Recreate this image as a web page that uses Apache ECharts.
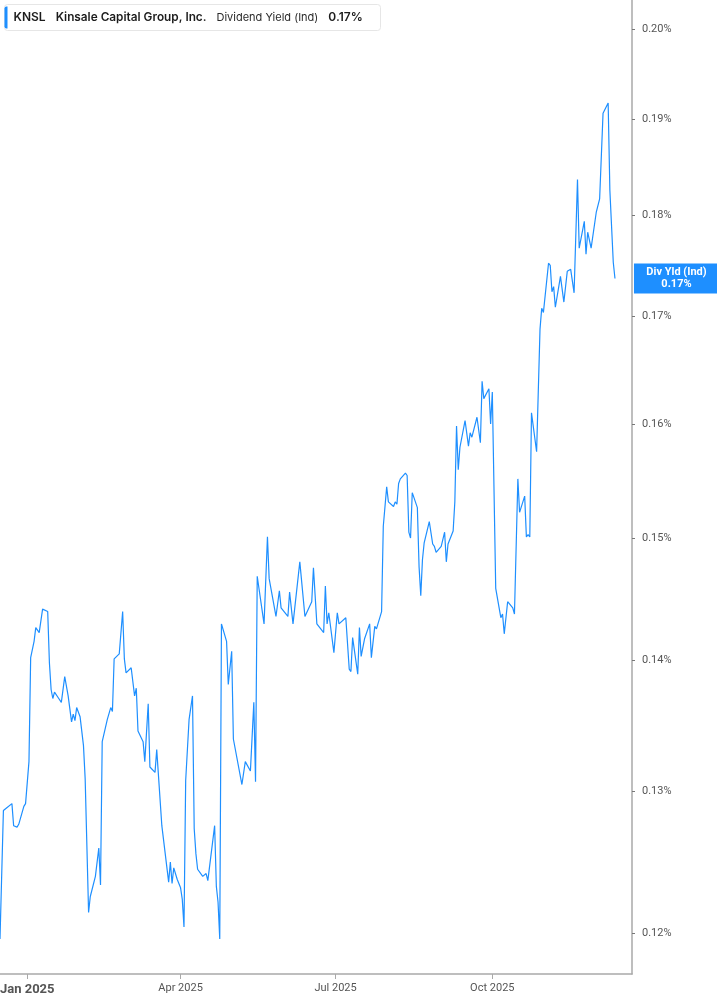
<!DOCTYPE html>
<html>
<head>
<meta charset="utf-8">
<title>KNSL Dividend Yield</title>
<script src="https://cdn.jsdelivr.net/npm/echarts@6/dist/echarts.min.js"></script>
<style>
  html, body { margin: 0; padding: 0; background: #fff; }
  #main { width: 717px; height: 1005px; }
</style>
</head>
<body>
<div id="main"></div>
<script>
// dividend yield (Ind), in percent
var dates = [
  '2024-12-16','2024-12-18','2024-12-19','2024-12-20','2024-12-23','2024-12-24','2024-12-26','2024-12-27','2024-12-30','2024-12-31',
  '2025-01-02','2025-01-03','2025-01-05','2025-01-06','2025-01-07','2025-01-08','2025-01-10','2025-01-13','2025-01-14','2025-01-15',
  '2025-01-16','2025-01-17','2025-01-19','2025-01-21','2025-01-22','2025-01-23','2025-01-24','2025-01-25','2025-01-27','2025-01-28',
  '2025-01-29','2025-01-30','2025-02-01','2025-02-03','2025-02-04','2025-02-06','2025-02-07','2025-02-10','2025-02-12','2025-02-13',
  '2025-02-14','2025-02-17','2025-02-19','2025-02-20','2025-02-21','2025-02-24','2025-02-26','2025-02-27','2025-02-28','2025-03-03',
  '2025-03-05','2025-03-06','2025-03-07','2025-03-10','2025-03-11','2025-03-13','2025-03-14','2025-03-17','2025-03-18','2025-03-19',
  '2025-03-21','2025-03-25','2025-03-26','2025-03-27','2025-03-28','2025-03-30','2025-04-01','2025-04-02','2025-04-03','2025-04-04',
  '2025-04-06','2025-04-08','2025-04-09','2025-04-10','2025-04-11','2025-04-14','2025-04-16','2025-04-17','2025-04-21','2025-04-22',
  '2025-04-23','2025-04-24','2025-04-25','2025-04-28','2025-04-29','2025-04-30','2025-05-01','2025-05-02','2025-05-07','2025-05-09',
  '2025-05-12','2025-05-14','2025-05-15','2025-05-16','2025-05-20','2025-05-22','2025-05-23','2025-05-27','2025-05-29','2025-05-30',
  '2025-06-03','2025-06-04','2025-06-06','2025-06-10','2025-06-11','2025-06-13','2025-06-14','2025-06-17','2025-06-18','2025-06-20',
  '2025-06-24','2025-06-25','2025-06-26','2025-06-27','2025-06-30','2025-07-02','2025-07-03','2025-07-07','2025-07-09','2025-07-10',
  '2025-07-11','2025-07-14','2025-07-15','2025-07-16','2025-07-18','2025-07-21','2025-07-22','2025-07-24','2025-07-25','2025-07-28',
  '2025-07-29','2025-07-31','2025-08-01','2025-08-04','2025-08-05','2025-08-06','2025-08-07','2025-08-08','2025-08-11','2025-08-12',
  '2025-08-13','2025-08-14','2025-08-15','2025-08-18','2025-08-19','2025-08-20','2025-08-21','2025-08-22','2025-08-25','2025-08-27',
  '2025-08-28','2025-08-29','2025-09-01','2025-09-03','2025-09-04','2025-09-05','2025-09-08','2025-09-09','2025-09-10','2025-09-11',
  '2025-09-12','2025-09-15','2025-09-17','2025-09-18','2025-09-19','2025-09-22','2025-09-24','2025-09-25','2025-09-26','2025-09-29',
  '2025-09-30','2025-10-01','2025-10-03','2025-10-06','2025-10-07','2025-10-08','2025-10-10','2025-10-13','2025-10-14','2025-10-16',
  '2025-10-17','2025-10-20','2025-10-21','2025-10-22','2025-10-23','2025-10-24','2025-10-27','2025-10-29','2025-10-30','2025-10-31',
  '2025-11-03','2025-11-04','2025-11-05','2025-11-06','2025-11-07','2025-11-10','2025-11-12','2025-11-14','2025-11-16','2025-11-18',
  '2025-11-20','2025-11-21','2025-11-24','2025-11-25','2025-11-26','2025-11-28','2025-12-01','2025-12-03','2025-12-05','2025-12-08',
  '2025-12-09','2025-12-11','2025-12-12'
];
var yieldPct = [
  0.1196,0.1286,0.1285,0.1288,0.1291,0.1275,0.1274,0.1276,0.1289,0.1291,
  0.1322,0.1402,0.1415,0.1426,0.1426,0.1422,0.1441,0.1439,0.1398,0.1377,
  0.1370,0.1375,0.1371,0.1367,0.1366,0.1387,0.1387,0.1372,0.1352,0.1358,
  0.1353,0.1363,0.1356,0.1334,0.1309,0.1214,0.1225,0.1239,0.1259,0.1233,
  0.1337,0.1354,0.1363,0.1360,0.1401,0.1405,0.1439,0.1401,0.1390,0.1394,
  0.1372,0.1378,0.1345,0.1337,0.1322,0.1366,0.1318,0.1314,0.1331,0.1330,
  0.1275,0.1235,0.1249,0.1234,0.1245,0.1237,0.1231,0.1223,0.1204,0.1308,
  0.1354,0.1372,0.1273,0.1255,0.1244,0.1239,0.1241,0.1236,0.1275,0.1232,
  0.1221,0.1196,0.1429,0.1415,0.1381,0.1380,0.1407,0.1339,0.1305,0.1322,
  0.1315,0.1367,0.1307,0.1468,0.1429,0.1501,0.1466,0.1435,0.1456,0.1442,
  0.1435,0.1455,0.1429,0.1480,0.1480,0.1435,0.1434,0.1447,0.1475,0.1429,
  0.1422,0.1460,0.1429,0.1438,0.1406,0.1438,0.1429,0.1434,0.1393,0.1391,
  0.1418,0.1389,0.1426,0.1403,0.1417,0.1429,0.1402,0.1427,0.1425,0.1439,
  0.1510,0.1544,0.1531,0.1527,0.1531,0.1529,0.1547,0.1551,0.1556,0.1554,
  0.1505,0.1500,0.1539,0.1526,0.1476,0.1452,0.1482,0.1496,0.1514,0.1495,
  0.1493,0.1488,0.1493,0.1505,0.1480,0.1495,0.1506,0.1531,0.1598,0.1559,
  0.1579,0.1603,0.1580,0.1592,0.1588,0.1606,0.1583,0.1639,0.1623,0.1632,
  0.1600,0.1629,0.1458,0.1434,0.1437,0.1421,0.1447,0.1442,0.1437,0.1551,
  0.1522,0.1536,0.1501,0.1503,0.1501,0.1610,0.1575,0.1688,0.1708,0.1704,
  0.1752,0.1750,0.1724,0.1729,0.1709,0.1739,0.1714,0.1744,0.1746,0.1723,
  0.1837,0.1767,0.1794,0.1761,0.1783,0.1767,0.1803,0.1817,0.1907,0.1918,
  0.1826,0.1753,0.1737
];
var yTicks = [0.12, 0.13, 0.14, 0.15, 0.16, 0.17, 0.18, 0.19, 0.20];
var xTicks = ['2025-01-01', '2025-04-01', '2025-07-01', '2025-10-01'];

var blue = '#1e8fff';
var axisGray = '#a9a9a9';
var lastVal = yieldPct[yieldPct.length - 1];
var monthNames = ['Jan','Feb','Mar','Apr','May','Jun','Jul','Aug','Sep','Oct','Nov','Dec'];

function toTime(d) { return Date.parse(d + 'T00:00:00Z'); }

var seriesData = [];
for (var i = 0; i < dates.length; i++) {
  seriesData.push([toTime(dates[i]), yieldPct[i]]);
}
var xTickTimes = xTicks.map(toTime);

var chart = echarts.init(document.getElementById('main'));

chart.setOption({
  animation: false,
  backgroundColor: '#fff',
  textStyle: { fontFamily: 'Roboto, "Noto Sans", sans-serif' },
  grid: { left: 0, right: 85, top: 0, bottom: 31, containLabel: false, outerBoundsMode: 'none' },
  xAxis: {
    type: 'value',
    min: toTime('2024-12-16'),
    max: toTime('2025-12-22'),
    axisLine: { show: true, onZero: false, lineStyle: { color: axisGray, width: 1.5 } },
    axisTick: { show: true, length: 5, customValues: xTickTimes, lineStyle: { color: axisGray } },
    splitLine: { show: false },
    axisLabel: {
      customValues: xTickTimes,
      margin: 9,
      formatter: function (v) {
        var d = new Date(v);
        var s = monthNames[d.getUTCMonth()] + ' ' + d.getUTCFullYear();
        return d.getUTCMonth() === 0 ? '{b|' + s + '}' : '{n|' + s + '}';
      },
      rich: {
        b: { fontSize: 13, fontWeight: 'bold', color: '#555' },
        n: { fontSize: 11, color: '#555' }
      }
    }
  },
  yAxis: {
    type: 'log',
    position: 'right',
    min: 0.11725,
    max: 0.2033,
    axisLine: { show: true, lineStyle: { color: axisGray, width: 1.5 } },
    axisTick: { show: true, length: 3, customValues: yTicks, lineStyle: { color: '#777' } },
    splitLine: { show: false },
    minorTick: { show: false },
    axisLabel: {
      customValues: yTicks,
      margin: 10,
      color: '#555',
      fontSize: 11,
      formatter: function (v) { return v.toFixed(2) + '%'; }
    }
  },
  series: [{
    type: 'line',
    data: seriesData,
    showSymbol: false,
    lineStyle: { color: blue, width: 1.2 },
    itemStyle: { color: blue },
    endLabel: {
      show: true,
      distance: 19,
      backgroundColor: blue,
      padding: [3, 0, 3, 0],
      width: 85,
      formatter: function (p) {
        return '{a|Div Yld (Ind)}\n{a|' + p.value[1].toFixed(2) + '%}';
      },
      rich: {
        a: { color: '#fff', fontWeight: 'bold', fontSize: 11, lineHeight: 12, align: 'center', width: 85 }
      }
    }
  }],
  graphic: [{
    type: 'group',
    left: 4,
    top: 4,
    children: [{
      type: 'rect',
      shape: { x: 0, y: 0, width: 376, height: 26, r: 3 },
      style: { fill: '#fff', stroke: '#e6e6e6', lineWidth: 1 }
    }, {
      type: 'rect',
      shape: { x: 0, y: 2, width: 3, height: 22, r: [2, 0, 0, 2] },
      style: { fill: blue }
    }, {
      type: 'text',
      x: 9,
      y: 13,
      style: {
        text: '{k|KNSL}   {t|Kinsale Capital Group, Inc.}   {n|Dividend Yield (Ind)}   {k|' + lastVal.toFixed(2) + '%}',
        verticalAlign: 'middle',
        rich: {
          k: { fontSize: 12, fontWeight: 600, fill: '#1c1c1c', fontFamily: 'Inter' },
          t: { fontSize: 11.8, fontWeight: 600, fill: '#1c1c1c', fontFamily: 'Inter' },
          n: { fontSize: 11, fill: '#2a2a2a', fontFamily: 'Inter' }
        }
      }
    }]
  }]
});
</script>
</body>
</html>
